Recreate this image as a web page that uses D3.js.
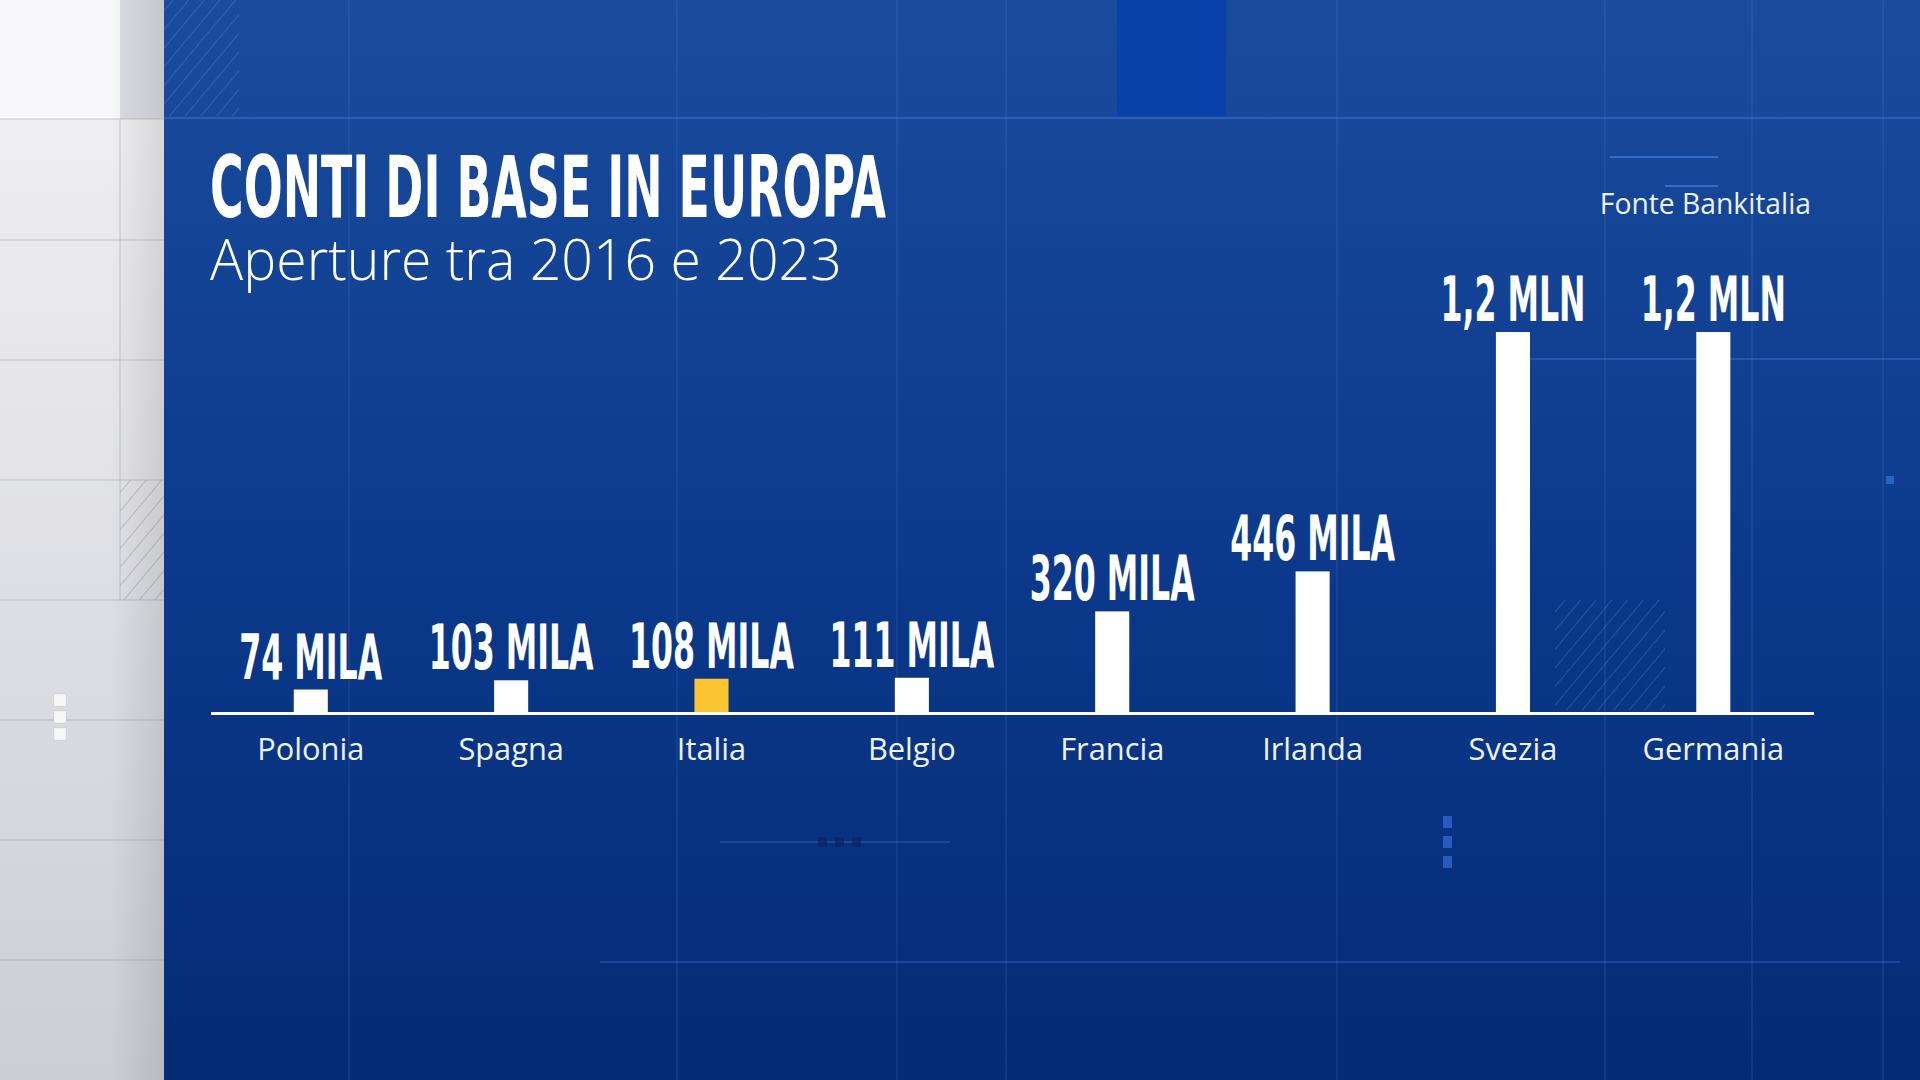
<!DOCTYPE html>
<html>
<head>
<meta charset="utf-8">
<script src="https://cdn.jsdelivr.net/npm/d3@7"></script>
<style>
  html, body { margin: 0; padding: 0; background: #0a3585; overflow: hidden; }
  svg { display: block; }
</style>
</head>
<body>
<div id="chart"></div>
<script>
// data
const countries = ["Polonia", "Spagna", "Italia", "Belgio", "Francia", "Irlanda", "Svezia", "Germania"];
const openings = [74000, 103000, 108000, 111000, 320000, 446000, 1200000, 1200000];
const valueLabels = ["74 MILA", "103 MILA", "108 MILA", "111 MILA", "320 MILA", "446 MILA", "1,2 MLN", "1,2 MLN"];
const highlight = "Italia";

const W = 1920, H = 1080;
const panelX = 164;
const baseY = 713;

const svg = d3.select("#chart")
  .append("svg")
  .attr("width", W)
  .attr("height", H);

const defs = svg.append("defs");

// background gradients
const gBlue = defs.append("linearGradient").attr("id", "blue").attr("x1", 0).attr("y1", 0).attr("x2", 0).attr("y2", 1);
gBlue.append("stop").attr("offset", "0%").attr("stop-color", "#1a4c9e");
gBlue.append("stop").attr("offset", "55%").attr("stop-color", "#0b388a");
gBlue.append("stop").attr("offset", "100%").attr("stop-color", "#032c74");

const gGrey = defs.append("linearGradient").attr("id", "grey").attr("x1", 0).attr("y1", 0).attr("x2", 0).attr("y2", 1);
gGrey.append("stop").attr("offset", "0%").attr("stop-color", "#f3f3f6");
gGrey.append("stop").attr("offset", "100%").attr("stop-color", "#cdced5");

const gShade = defs.append("linearGradient").attr("id", "shade").attr("x1", 0).attr("y1", 0).attr("x2", 1).attr("y2", 0);
gShade.append("stop").attr("offset", "0%").attr("stop-color", "#000").attr("stop-opacity", 0);
gShade.append("stop").attr("offset", "100%").attr("stop-color", "#000").attr("stop-opacity", 0.1);

function hatch(id, color) {
  const p = defs.append("pattern")
    .attr("id", id)
    .attr("width", 12).attr("height", 12)
    .attr("patternUnits", "userSpaceOnUse")
    .attr("patternTransform", "rotate(40)");
  p.append("line").attr("x1", 0).attr("y1", 0).attr("x2", 0).attr("y2", 12)
    .attr("stroke", color).attr("stroke-width", 1.5);
}
hatch("hatchBlue", "rgba(120,160,230,0.35)");
hatch("hatchGrey", "rgba(120,120,130,0.45)");

// left grey panel
svg.append("rect").attr("width", panelX).attr("height", H).attr("fill", "url(#grey)");
svg.append("rect").attr("width", 120).attr("height", 119).attr("fill", "#f8f8fa");
svg.append("rect").attr("x", 120).attr("width", panelX - 120).attr("height", 119).attr("fill", "#dcdde3");
svg.append("rect").attr("x", 120).attr("y", 480).attr("width", panelX - 120).attr("height", 120).attr("fill", "url(#hatchGrey)");
svg.append("rect").attr("x", 110).attr("width", panelX - 110).attr("height", H).attr("fill", "url(#shade)");
svg.append("line").attr("x1", 120).attr("x2", 120).attr("y1", 119).attr("y2", 600)
  .attr("stroke", "rgba(150,150,165,0.3)").attr("stroke-width", 1.5);

const greyLines = [119, 240, 360, 480, 600, 720, 840, 960];
svg.append("g").selectAll("line").data(greyLines).join("line")
  .attr("x1", 0).attr("x2", panelX)
  .attr("y1", d => d).attr("y2", d => d)
  .attr("stroke", "rgba(150,150,165,0.35)").attr("stroke-width", 1.5);

svg.append("g").selectAll("rect").data([0, 1, 2]).join("rect")
  .attr("x", 54).attr("y", d => 694 + d * 17)
  .attr("width", 12).attr("height", 12)
  .attr("fill", "#f7f7f9")
  .attr("stroke", "rgba(0,0,0,0.06)");

// blue panel
svg.append("rect").attr("x", panelX).attr("width", W - panelX).attr("height", H).attr("fill", "url(#blue)");
svg.append("rect").attr("x", 1117).attr("y", 0).attr("width", 109).attr("height", 116).attr("fill", "#0a40a9");
svg.append("rect").attr("x", panelX).attr("y", 0).attr("width", 75).attr("height", 116).attr("fill", "url(#hatchBlue)");
svg.append("rect").attr("x", 1555).attr("y", 600).attr("width", 110).attr("height", 110).attr("fill", "url(#hatchBlue)");

// faint grid of the backdrop
const vLines = [349, 677, 897, 1006, 1337, 1605, 1752, 1883];
svg.append("g").selectAll("line").data(vLines).join("line")
  .attr("x1", d => d).attr("x2", d => d)
  .attr("y1", 0).attr("y2", H)
  .attr("stroke", "rgba(110,150,230,0.16)").attr("stroke-width", 1.5);

const hLines = [
  { y: 118, x1: panelX, x2: W, o: 0.35 },
  { y: 359, x1: 1530, x2: W, o: 0.3 },
  { y: 962, x1: 600, x2: 1900, o: 0.28 },
  { y: 842, x1: 720, x2: 950, o: 0.25 }
];
svg.append("g").selectAll("line").data(hLines).join("line")
  .attr("x1", d => d.x1).attr("x2", d => d.x2)
  .attr("y1", d => d.y).attr("y2", d => d.y)
  .attr("stroke", d => `rgba(80,140,240,${d.o})`).attr("stroke-width", 2);

svg.append("g").selectAll("rect").data([0, 1, 2]).join("rect")
  .attr("x", 818).attr("y", 837)
  .attr("x", d => 818 + d * 17)
  .attr("width", 9).attr("height", 10)
  .attr("fill", "rgba(10,35,90,0.7)");

svg.append("g").selectAll("rect").data([0, 1, 2]).join("rect")
  .attr("x", 1443).attr("y", d => 816 + d * 20)
  .attr("width", 9).attr("height", 12)
  .attr("fill", "rgba(50,110,220,0.7)");
svg.append("rect").attr("x", 1886).attr("y", 476).attr("width", 8).attr("height", 8).attr("fill", "rgba(60,120,230,0.6)");

svg.append("line").attr("x1", 1610).attr("x2", 1718).attr("y1", 157).attr("y2", 157)
  .attr("stroke", "rgba(80,140,240,0.55)").attr("stroke-width", 2);
svg.append("line").attr("x1", 1665).attr("x2", 1718).attr("y1", 186).attr("y2", 186)
  .attr("stroke", "rgba(80,140,240,0.55)").attr("stroke-width", 2);

// scales
const x = d3.scaleBand()
  .domain(countries)
  .range([210.6, 1813.5])
  .paddingInner(0.83)
  .paddingOuter(0.415);

const y = d3.scaleLinear()
  .domain([0, 1200000])
  .range([baseY, 332]);

const condensed = "'Liberation Sans Narrow', 'DejaVu Sans Condensed', 'Liberation Sans', sans-serif";
const regular = "'Open Sans', 'Noto Sans', sans-serif";

// title, squeezed to the width it has in the picture
const title = svg.append("text")
  .attr("font-family", condensed)
  .attr("font-weight", 700)
  .attr("font-size", 85)
  .attr("fill", "#ffffff")
  .text("CONTI DI BASE IN EUROPA");
const kBold = 676 / title.node().getComputedTextLength();
title.attr("transform", `translate(210,217) scale(${kBold},1)`);

const subtitle = svg.append("text")
  .attr("font-family", regular)
  .attr("font-weight", 300)
  .attr("font-size", 58)
  .attr("fill", "#ffffff")
  .text("Aperture tra 2016 e 2023");
const kReg = 632 / subtitle.node().getComputedTextLength();
subtitle.attr("transform", `translate(210,280) scale(${kReg},1)`);

svg.append("text")
  .attr("font-family", regular)
  .attr("font-size", 29)
  .attr("fill", "#eef2fa")
  .attr("text-anchor", "end")
  .attr("transform", `translate(1811,214) scale(${kReg * 1.02},1)`)
  .text("Fonte Bankitalia");

// bars
const rows = countries.map((c, i) => ({ c, v: openings[i], label: valueLabels[i] }));

svg.append("g").selectAll("rect").data(rows).join("rect")
  .attr("x", d => x(d.c))
  .attr("y", d => y(d.v))
  .attr("width", x.bandwidth())
  .attr("height", d => y(0) - y(d.v))
  .attr("fill", d => d.c === highlight ? "#fbc531" : "#ffffff");

svg.append("g").selectAll("text").data(rows).join("text")
  .attr("transform", d => `translate(${x(d.c) + x.bandwidth() / 2},${y(d.v) - 11}) scale(${kBold * 0.93},1)`)
  .attr("text-anchor", "middle")
  .attr("font-family", condensed)
  .attr("font-weight", 700)
  .attr("font-size", 63)
  .attr("fill", "#ffffff")
  .text(d => d.label);

// axis
const axis = svg.append("g")
  .attr("transform", `translate(0,${baseY})`)
  .call(d3.axisBottom(x).tickSize(0).tickSizeOuter(0).tickPadding(0));

axis.select(".domain").attr("stroke", "#ffffff").attr("stroke-width", 3);
axis.selectAll(".tick text")
  .attr("font-family", regular)
  .attr("font-size", 31)
  .attr("fill", "#eef2fa")
  .attr("dy", 0)
  .attr("y", 47)
  .attr("transform", `scale(${kReg * 1.04},1)`);
</script>
</body>
</html>
